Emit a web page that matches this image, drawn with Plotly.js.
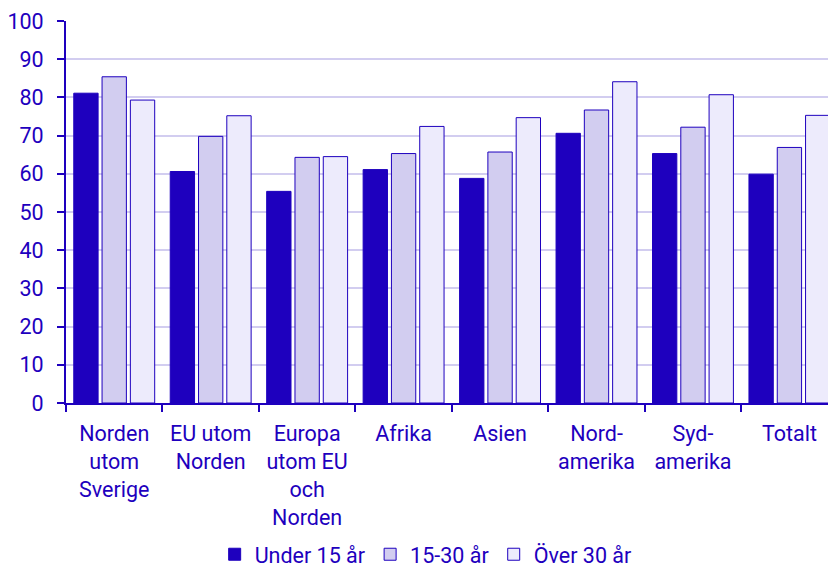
<!DOCTYPE html>
<html>
<head>
<meta charset="utf-8">
<script src="https://cdn.plot.ly/plotly-3.0.1.min.js"></script>
<style>html,body{margin:0;padding:0;background:#fff;}#chart{width:828px;height:567px;}</style>
</head>
<body>
<div id="chart"></div>
<script>
const categories = ["Norden<br>utom<br>Sverige", "EU utom<br>Norden", "Europa<br>utom EU<br>och<br>Norden", "Afrika", "Asien", "Nord-<br>amerika", "Syd-<br>amerika", "Totalt"];
const seriesNames = ["Under 15 år", "15-30 år", "Över 30 år"];
const under15 = [81.1, 60.6, 55.4, 61.1, 58.8, 70.6, 65.3, 59.9];
const age15to30 = [85.4, 69.8, 64.3, 65.3, 65.7, 76.7, 72.2, 66.9];
const over30 = [79.3, 75.2, 64.5, 72.4, 74.7, 84.1, 80.7, 75.3];
const yTicks = [0, 10, 20, 30, 40, 50, 60, 70, 80, 90, 100];

const ink = '#1E00BE';
const fills = ['#1E00BE', '#D2CDF0', '#EDEBFC'];
const values = [under15, age15to30, over30];

const traces = values.map((v, i) => ({
  type: 'bar',
  name: seriesNames[i],
  x: categories,
  y: v,
  marker: {color: fills[i], line: {color: ink, width: 1}},
  hoverinfo: 'skip'
}));

const FS = 21.5;
const layout = {
  width: 828, height: 567,
  margin: {l: 66, r: 0, t: 21, b: 164, pad: 0, autoexpand: false},
  paper_bgcolor: '#fff', plot_bgcolor: '#fff',
  font: {family: 'Roboto, sans-serif', size: FS, color: ink},
  barmode: 'group',
  bargap: 0.12,
  bargroupgap: 0.14,
  showlegend: true,
  legend: {orientation: 'h', x: 0.472, xanchor: 'center', y: -0.396, yanchor: 'middle',
           font: {size: FS, color: ink}, itemwidth: 30, traceorder: 'normal'},
  xaxis: {
    type: 'category', range: [-0.5, 7.4], tickson: 'boundaries',
    ticks: 'outside', ticklen: 7, tickwidth: 2, tickcolor: ink,
    showline: true, linecolor: ink, linewidth: 2,
    showgrid: false, zeroline: false, fixedrange: true, automargin: false,
    ticklabelstandoff: 10,
    tickfont: {size: FS, color: ink}
  },
  yaxis: {
    range: [0, 100], tickvals: yTicks, ticktext: yTicks.map(String),
    ticks: 'outside', ticklen: 7, tickwidth: 2, tickcolor: ink,
    showline: true, linecolor: ink, linewidth: 2,
    showgrid: true, gridcolor: '#D2CDF0', gridwidth: 2,
    zeroline: false, fixedrange: true, automargin: false, ticklabelstandoff: 9,
    tickfont: {size: FS, color: ink}
  }
};

Plotly.newPlot('chart', traces, layout, {displayModeBar: false, staticPlot: true});
</script>
</body>
</html>
